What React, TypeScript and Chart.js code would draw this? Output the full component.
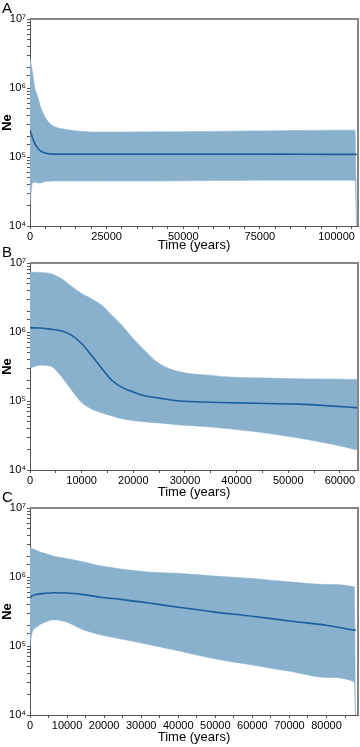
import React, { useEffect, useRef } from "react";
import { Chart, registerables } from "chart.js";

Chart.register(...registerables);
Chart.defaults.font.family = "'Liberation Sans', Arial, sans-serif";
Chart.defaults.color = "#000";

// Panel A
const timeA = [0, 800, 1600, 2500, 3300, 4900, 7200, 12000, 22800, 40000, 60000, 80000, 100000, 106000, 106600];
const upperA = [2.7e6, 1.7e6, 1.0e6, 7.5e5, 5.6e5, 3.8e5, 2.9e5, 2.5e5, 2.3e5, 2.32e5, 2.35e5, 2.4e5, 2.45e5, 2.45e5, 8e3];
const medianA = [2.45e5, 1.9e5, 1.55e5, 1.35e5, 1.24e5, 1.14e5, 1.1e5, 1.1e5, 1.1e5, 1.1e5, 1.1e5, 1.1e5, 1.09e5, 1.09e5, 1.09e5];
const lowerA = [2.0e4, 4.2e4, 4.3e4, 4.2e4, 4.2e4, 4.4e4, 4.5e4, 4.5e4, 4.5e4, 4.5e4, 4.55e4, 4.6e4, 4.6e4, 4.6e4, 8e3];

// Panel B
const timeB = [0, 2000, 4000, 6000, 8000, 10000, 12000, 14000, 16000, 18000, 20000, 22000, 25000, 29000, 35000, 40000, 46000, 52000, 58000, 64000];
const upperB = [7.4e6, 7.3e6, 7.0e6, 6.0e6, 4.6e6, 3.6e6, 3.0e6, 2.4e6, 1.7e6, 1.2e6, 8.0e5, 5.6e5, 3.5e5, 2.65e5, 2.35e5, 2.2e5, 2.15e5, 2.1e5, 2.08e5, 2.05e5];
const medianB = [1.15e6, 1.14e6, 1.1e6, 1.04e6, 9.0e5, 6.8e5, 4.5e5, 2.9e5, 1.95e5, 1.55e5, 1.35e5, 1.2e5, 1.1e5, 1.0e5, 9.6e4, 9.4e4, 9.2e4, 9.0e4, 8.5e4, 7.9e4];
const lowerB = [3.0e5, 3.3e5, 3.2e5, 2.3e5, 1.45e5, 9.5e4, 7.6e4, 6.7e4, 6.0e4, 5.5e4, 5.2e4, 5.0e4, 4.8e4, 4.5e4, 4.2e4, 3.85e4, 3.4e4, 2.9e4, 2.4e4, 1.9e4];

// Panel C
const timeC = [0, 500, 1900, 4000, 6500, 10000, 14000, 19000, 25000, 32000, 40000, 50000, 60000, 70000, 80000, 87500, 87900];
const upperC = [2.7e6, 2.6e6, 2.4e6, 2.2e6, 2.0e6, 1.85e6, 1.68e6, 1.45e6, 1.3e6, 1.18e6, 1.13e6, 1.03e6, 9.5e5, 8.5e5, 7.8e5, 7.2e5, 5e3];
const medianC = [5.0e5, 5.3e5, 5.6e5, 5.8e5, 5.9e5, 5.85e5, 5.6e5, 5.1e5, 4.7e5, 4.2e5, 3.65e5, 3.1e5, 2.7e5, 2.3e5, 2.0e5, 1.7e5, 1.69e5];
const lowerC = [1.0e5, 1.5e5, 1.9e5, 2.2e5, 2.4e5, 2.2e5, 1.75e5, 1.45e5, 1.25e5, 1.05e5, 8.5e4, 6.5e4, 5.3e4, 4.3e4, 3.5e4, 3.0e4, 5e3];

const yTickLabels = { 4: "10⁴", 5: "10⁵", 6: "10⁶", 7: "10⁷" } as Record<number, string>;
const X_MINOR_STEP = 5000;

const BAND = "#89b0cc";
const LINE = "#1d5e9a";

const framePlugin = {
  id: "frame",
  afterDraw(chart: any) {
    const { ctx, chartArea } = chart;
    const { left, top, right, bottom } = chartArea;
    ctx.save();
    ctx.strokeStyle = "#858585";
    ctx.lineWidth = 2;
    ctx.beginPath();
    ctx.moveTo(left, top);
    ctx.lineTo(right, top);
    ctx.lineTo(right, bottom);
    ctx.stroke();
    ctx.restore();
  },
};

type PanelProps = {
  top: number;
  height: number;
  padTop: number;
  xAxisHeight: number;
  xMax: number;
  majorStep: number;
  time: number[];
  upper: number[];
  median: number[];
  lower: number[];
};

function Panel(p: PanelProps) {
  const ref = useRef<HTMLCanvasElement | null>(null);
  useEffect(() => {
    if (!ref.current) return;
    const pts = (v: number[]) => p.time.map((t, i) => ({ x: t, y: v[i] }));
    const chart = new Chart(ref.current, {
      type: "line",
      data: {
        datasets: [
          {
            data: pts(p.median),
            borderColor: LINE,
            borderWidth: 1.6,
            pointRadius: 0,
            fill: false,
            cubicInterpolationMode: "monotone",
          },
          {
            data: pts(p.upper),
            borderColor: BAND,
            borderWidth: 0.5,
            backgroundColor: BAND,
            pointRadius: 0,
            fill: "+1",
            cubicInterpolationMode: "monotone",
          },
          {
            data: pts(p.lower),
            borderColor: BAND,
            borderWidth: 0.5,
            pointRadius: 0,
            fill: false,
            cubicInterpolationMode: "monotone",
          },
        ],
      } as any,
      options: {
        animation: false,
        responsive: false,
        devicePixelRatio: 1,
        layout: { padding: { top: p.padTop, right: 2, left: 0, bottom: 0 } },
        plugins: { legend: { display: false }, tooltip: { enabled: false } },
        scales: {
          x: {
            type: "linear",
            min: 0,
            max: p.xMax,
            afterBuildTicks: (s: any) => {
              const t: any[] = [];
              for (let v = 0; v <= p.xMax; v += X_MINOR_STEP) t.push({ value: v, major: v % p.majorStep === 0 });
              s.ticks = t;
            },
            afterFit: (s: any) => {
              s.height = p.xAxisHeight;
            },
            border: { display: true, color: "#555", width: 1 },
            grid: { display: true, drawOnChartArea: false, drawTicks: true, tickLength: 3, color: "#555" },
            ticks: {
              autoSkip: false,
              maxRotation: 0,
              minRotation: 0,
              padding: 1,
              font: { size: 11 },
              callback: (v: any) => {
                const n = Math.round(Number(v));
                return n % p.majorStep === 0 ? String(n) : "";
              },
            },
            title: {
              display: true,
              text: "Time (years)",
              font: { size: 13 },
              padding: { top: 0, bottom: 0 },
            },
          },
          y: {
            type: "logarithmic",
            min: 1e4,
            max: 1e7,
            afterFit: (s: any) => {
              s.width = 30;
            },
            border: { display: true, color: "#555", width: 1 },
            grid: { display: true, drawOnChartArea: false, drawTicks: true, tickLength: 3, color: "#555" },
            ticks: {
              autoSkip: false,
              padding: 1,
              font: { size: 11 },
              callback: (v: any) => {
                const e = Math.log10(Number(v));
                const r = Math.round(e);
                return Math.abs(e - r) < 1e-9 ? yTickLabels[r] || "" : "";
              },
            },
            title: {
              display: true,
              text: "Ne",
              font: { size: 13, weight: "bold" },
              padding: { top: 0, bottom: 0 },
            },
          },
        },
      } as any,
      plugins: [framePlugin],
    });
    return () => chart.destroy();
  }, []);
  return (
    <canvas
      ref={ref}
      width={360}
      height={p.height}
      style={{ position: "absolute", left: 0, top: p.top, width: 360, height: p.height }}
    />
  );
}

const letterStyle = (top: number): React.CSSProperties => ({
  position: "absolute",
  left: 2,
  top,
  fontFamily: "'Liberation Sans', Arial, sans-serif",
  fontSize: 15,
  lineHeight: "16px",
  color: "#000",
});

export default function App() {
  return (
    <div style={{ position: "fixed", left: 0, top: 0, width: 360, height: 747, background: "#fff", overflow: "hidden" }}>
      <Panel top={0} height={253} padTop={19} xAxisHeight={27} xMax={107000} majorStep={25000} time={timeA} upper={upperA} median={medianA} lower={lowerA} />
      <Panel top={250} height={250} padTop={13} xAxisHeight={30} xMax={63500} majorStep={10000} time={timeB} upper={upperB} median={medianB} lower={lowerB} />
      <Panel top={497} height={248} padTop={11} xAxisHeight={30} xMax={88500} majorStep={10000} time={timeC} upper={upperC} median={medianC} lower={lowerC} />
      <div style={letterStyle(0)}>A</div>
      <div style={letterStyle(244)}>B</div>
      <div style={letterStyle(489)}>C</div>
    </div>
  );
}
